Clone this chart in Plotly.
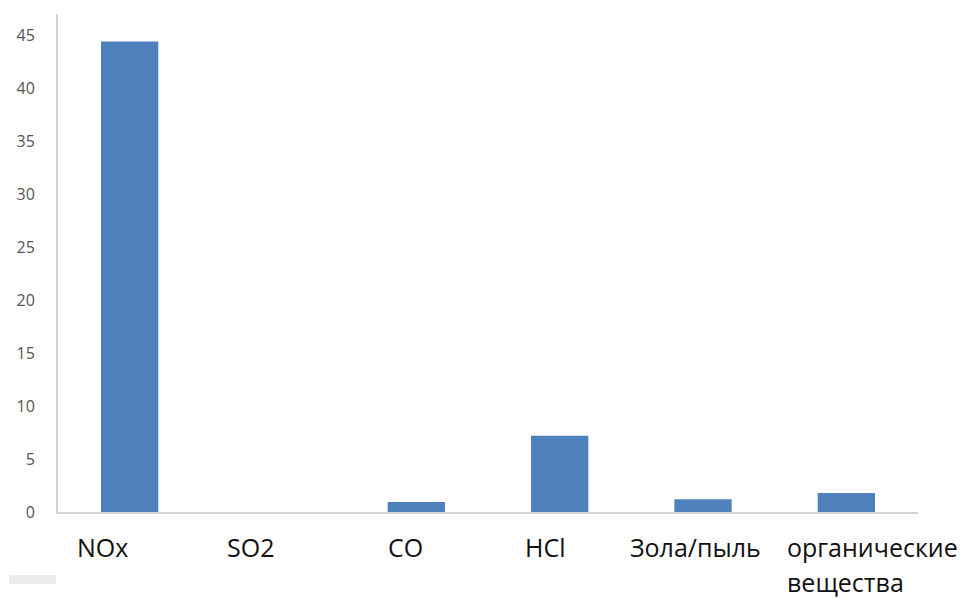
import plotly.graph_objects as go

# Emission categories and values
categories = ["NOx", "SO2", "CO", "HCl", "Зола/пыль", "органические вещества"]
label_texts = ["NOx", "SO2", "CO", "HCl", "Зола/пыль", "органические<br>вещества"]
values = [44.4, 0.0, 0.95, 7.2, 1.2, 1.8]
y_ticks = [0, 5, 10, 15, 20, 25, 30, 35, 40, 45]

# horizontal offsets (px) of each category caption's left edge from the category centre
label_offsets = [-55, -48, -30, -37, -75, -61]
# vertical offsets (px) of caption line centres below the baseline
line_shifts = [-35, -70]

BAR_COLOR = "#4f81bd"
CAPTION_FONT = "Open Sans"
TICK_FONT = "Open Sans"

fig = go.Figure(
    go.Bar(
        x=categories,
        y=values,
        marker=dict(color=BAR_COLOR, line=dict(width=0)),
        hoverinfo="x+y",
    )
)

for cat, txt, off in zip(categories, label_texts, label_offsets):
    for i, line in enumerate(txt.split("<br>")):
        fig.add_annotation(
            x=cat, xref="x", y=0, yref="paper",
            text=line, showarrow=False,
            xanchor="left", yanchor="middle", align="left",
            xshift=off, yshift=line_shifts[i],
            font=dict(family=CAPTION_FONT, size=25, color="#111111"),
        )

# faint grey strip in the lower-left corner
fig.add_shape(type="rect", xref="paper", yref="paper",
              x0=-0.0570, x1=-0.0023, y0=-0.1446, y1=-0.1265,
              line=dict(width=0), fillcolor="#ececec")

fig.update_layout(
    width=974, height=599,
    margin=dict(l=58, r=56, t=14, b=87),
    paper_bgcolor="white", plot_bgcolor="white",
    showlegend=False,
    bargap=0.6,
    xaxis=dict(
        range=[-0.5, len(categories) - 0.5], autorange=False,
        showticklabels=False, showgrid=False, zeroline=False,
        showline=True, linecolor="#d4d4d4", linewidth=2, ticks="",
    ),
    yaxis=dict(
        range=[0, 47], tickvals=y_ticks, showgrid=False, zeroline=False,
        showline=True, linecolor="#d4d4d4", linewidth=2, ticks="",
        ticklabelstandoff=18,
        tickfont=dict(family=TICK_FONT, size=16, color="#555555"),
    ),
)

fig.write_html("out.html")
